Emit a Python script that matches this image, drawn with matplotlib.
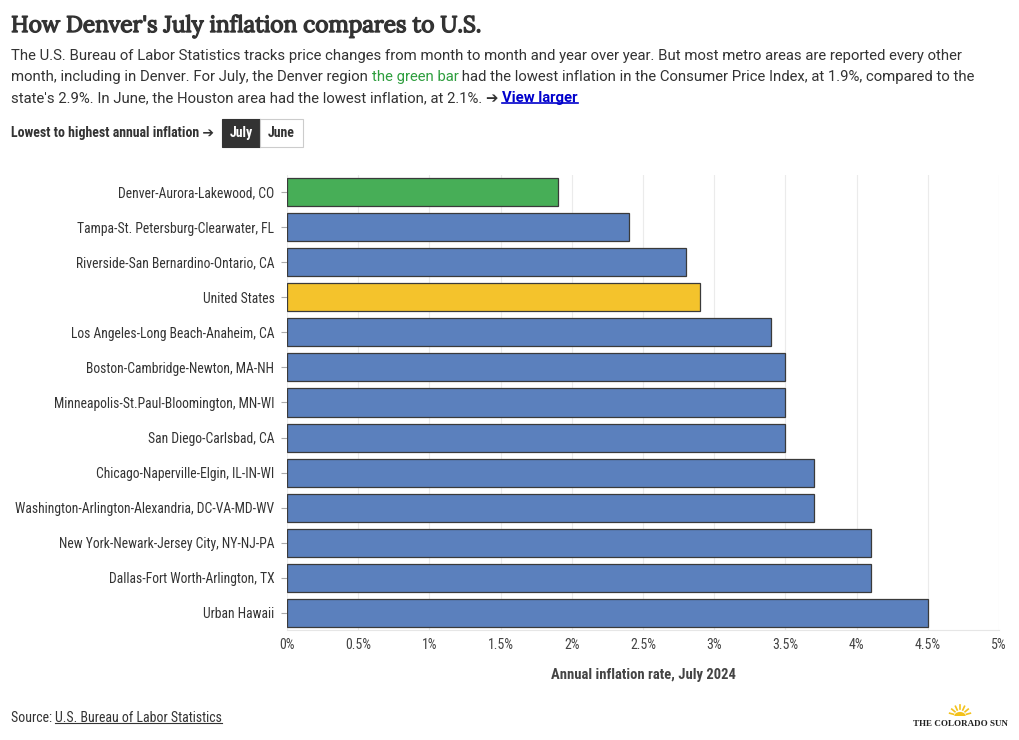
import math
import matplotlib
matplotlib.use("Agg")
import matplotlib.pyplot as plt
import matplotlib.patheffects as pe
from matplotlib.patches import Rectangle, Wedge
from matplotlib.lines import Line2D

# data
areas = [
    "Denver-Aurora-Lakewood, CO",
    "Tampa-St. Petersburg-Clearwater, FL",
    "Riverside-San Bernardino-Ontario, CA",
    "United States",
    "Los Angeles-Long Beach-Anaheim, CA",
    "Boston-Cambridge-Newton, MA-NH",
    "Minneapolis-St.Paul-Bloomington, MN-WI",
    "San Diego-Carlsbad, CA",
    "Chicago-Naperville-Elgin, IL-IN-WI",
    "Washington-Arlington-Alexandria, DC-VA-MD-WV",
    "New York-Newark-Jersey City, NY-NJ-PA",
    "Dallas-Fort Worth-Arlington, TX",
    "Urban Hawaii",
]
rates = [1.9, 2.4, 2.8, 2.9, 3.4, 3.5, 3.5, 3.5, 3.7, 3.7, 4.1, 4.1, 4.5]
x_ticks = [0, 0.5, 1, 1.5, 2, 2.5, 3, 3.5, 4, 4.5, 5]
x_tick_labels = ["0%", "0.5%", "1%", "1.5%", "2%", "2.5%", "3%", "3.5%", "4%", "4.5%", "5%"]

BLUE = "#5b80bd"
GREEN = "#47ae57"
YELLOW = "#f4c32c"
colors = []
for a in areas:
    if a.startswith("Denver"):
        colors.append(GREEN)
    elif a == "United States":
        colors.append(YELLOW)
    else:
        colors.append(BLUE)

COND = ["Roboto Condensed", "IBM Plex Sans Condensed", "Roboto", "DejaVu Sans"]
BODY = ["Roboto", "DejaVu Sans"]
SERIF = ["Lora", "Liberation Serif", "DejaVu Serif"]

W, H = 1020, 740
fig = plt.figure(figsize=(W / 100, H / 100), dpi=100)


def fx(px):
    return px / W


def fy(py):
    return 1 - py / H


ax = fig.add_axes([fx(287), fy(630), fx(999) - fx(287), fy(175) - fy(630)])
ypos = list(range(len(areas)))
ax.barh(ypos, rates, height=0.8, color=colors, edgecolor="#3a3a3a",
        linewidth=0.9, zorder=3)
ax.set_ylim(len(areas) - 0.515, -0.485)
ax.set_xlim(0, 5)
ax.set_yticks(ypos)
ax.set_yticklabels(areas, family=COND, fontsize=9.8, color="#333333")
ax.set_xticks(x_ticks)
ax.set_xticklabels(x_tick_labels, family=COND, fontsize=10, color="#444444")
ax.tick_params(axis="y", length=4, color="#aaaaaa", pad=5)
ax.tick_params(axis="x", length=0, pad=6)
ax.grid(axis="x", color="#ebebeb", linewidth=0.8, zorder=0)
for s in ["top", "right", "left"]:
    ax.spines[s].set_visible(False)
ax.spines["bottom"].set_color("#e6e6e6")
ax.set_xlabel("Annual inflation rate, July 2024", family=COND, fontsize=10.5,
              fontweight="bold", color="#444444", labelpad=11)

# title (Lora only ships regular here, so thicken with a stroke)
fig.text(fx(11), fy(32), "How Denver's July inflation compares to U.S.",
         family=SERIF, fontsize=16.3, fontweight="bold", color="#333333",
         va="baseline",
         path_effects=[pe.withStroke(linewidth=1.0, foreground="#333333")])

fig.canvas.draw()
renderer = fig.canvas.get_renderer()


def place_row(x0, y0, parts):
    # lay text pieces one after the other on a baseline
    x = x0
    arts = []
    for txt, kw in parts:
        a = fig.text(fx(x), fy(y0), txt, va="baseline", **kw)
        bb = a.get_window_extent(renderer)
        x = x + bb.width
        arts.append(a)
    return arts


sub_size = 10.75
base = dict(family=BODY, fontsize=sub_size, color="#333333")
place_row(11, 60, [
    ("The U.S. Bureau of Labor Statistics tracks price changes from month to month "
     "and year over year. But most metro areas are reported every other", base),
])
place_row(11, 81, [
    ("month, including in Denver. For July, the Denver region ", base),
    ("the green bar", dict(base, color="#2e9e3e")),
    (" had the lowest inflation in the Consumer Price Index, at 1.9%, compared to the", base),
])
row3 = place_row(11, 102, [
    ("state's 2.9%. In June, the Houston area had the lowest inflation, at 2.1%. \u2794 ", base),
    ("View larger", dict(base, color="#0000cc", fontweight="bold")),
])

# toggle
fig.text(fx(11), fy(137), "Lowest to highest annual inflation \u2794",
         family=COND, fontsize=10, fontweight="bold", color="#333333", va="baseline")
fig.patches.append(Rectangle((fx(222), fy(147)), fx(38), fy(119) - fy(147),
                             transform=fig.transFigure, facecolor="#333333",
                             edgecolor="#333333", linewidth=0.8))
fig.patches.append(Rectangle((fx(260), fy(147)), fx(43), fy(119) - fy(147),
                             transform=fig.transFigure, facecolor="white",
                             edgecolor="#cccccc", linewidth=0.8))
fig.text(fx(241), fy(133), "July", family=COND, fontsize=10, fontweight="bold",
         color="white", ha="center", va="center")
fig.text(fx(281.5), fy(133), "June", family=COND, fontsize=10, fontweight="bold",
         color="#333333", ha="center", va="center")

# source
src_kw = dict(family=COND, fontsize=10, color="#333333")
src = place_row(11, 722, [
    ("Source: ", src_kw),
    ("U.S. Bureau of Labor Statistics", src_kw),
])

# logo
fig.text(fx(960), fy(726), "THE COLORADO SUN", family=["Liberation Serif", "DejaVu Serif"],
         fontsize=6.5, fontweight="bold", color="#222222", ha="center", va="baseline")
fig.patches.append(Wedge((fx(960), fy(716)), 0.0055, 0, 180, transform=fig.transFigure,
                         facecolor="#f3c21b", edgecolor="none"))
for ang in range(15, 180, 25):
    r1, r2 = 0.0065, 0.0105
    a = math.radians(ang)
    fig.add_artist(Line2D([fx(960) + r1 * math.cos(a), fx(960) + r2 * math.cos(a)],
                          [fy(716) + r1 * math.sin(a) * W / H, fy(716) + r2 * math.sin(a) * W / H],
                          transform=fig.transFigure, color="#f3c21b", linewidth=1.2))

# underlines
fig.canvas.draw()
inv = fig.transFigure.inverted()
for art, col, lw in [(row3[1], "#0000cc", 1.2), (src[1], "#333333", 0.8)]:
    bb = art.get_window_extent(renderer)
    (x0, y0), (x1, _) = inv.transform([(bb.x0, bb.y0 + 2), (bb.x1, bb.y0 + 2)])
    fig.add_artist(Line2D([x0, x1], [y0, y0], transform=fig.transFigure,
                          color=col, linewidth=lw))

fig.savefig("out.png", dpi=100, facecolor="white")
